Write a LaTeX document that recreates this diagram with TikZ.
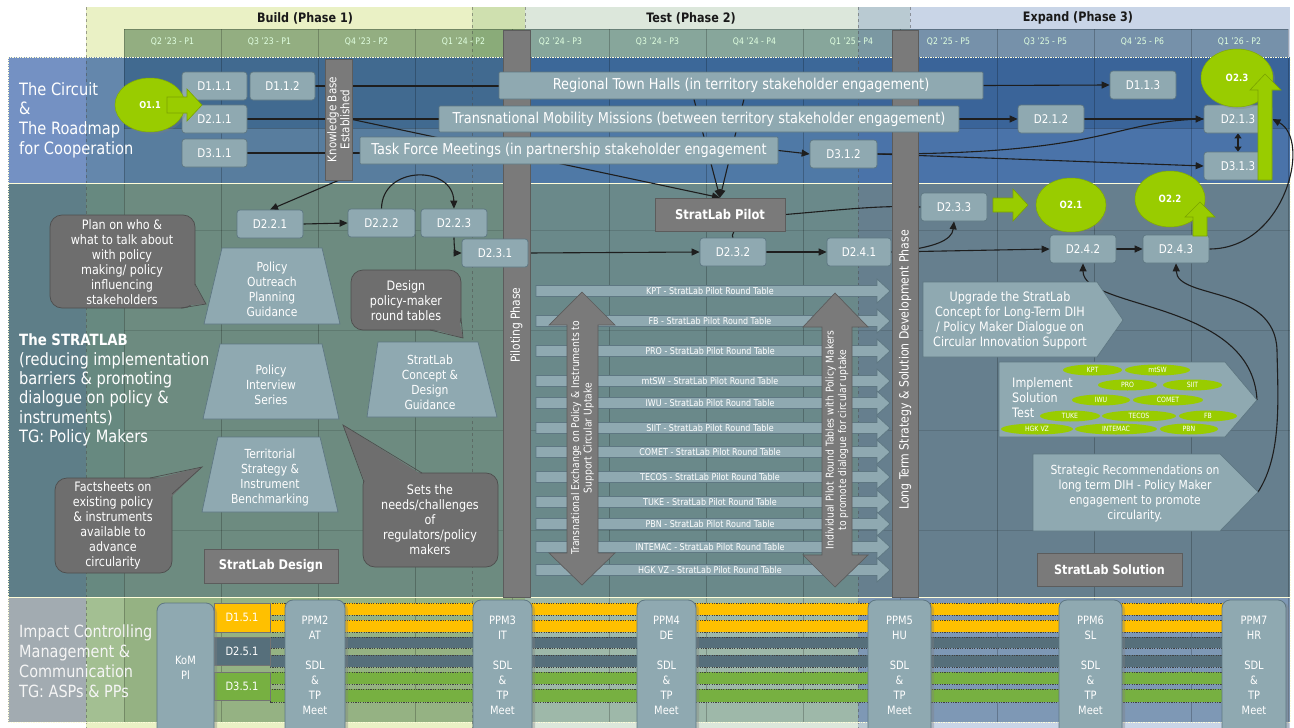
\documentclass[tikz,border=0pt]{standalone}
\usepackage{fontspec}
\setmainfont{DejaVu Sans}[FakeStretch=0.86]
\usetikzlibrary{arrows.meta,calc,shapes.geometric,shadows}
\newcommand\fsz[2]{\fontsize{#1}{#2}\selectfont}
\pgfdeclarelayer{bg}
\pgfdeclarelayer{lines}
\pgfdeclarelayer{bars}
\pgfsetlayers{bg,lines,bars,main}
\definecolor{nodec}{HTML}{8FA9B1}
\definecolor{nodebd}{HTML}{5E7782}
\definecolor{grayc}{HTML}{7A7A7A}
\definecolor{graybd}{HTML}{5C5C5C}
\definecolor{bubc}{HTML}{6E6E6E}
\definecolor{bubbd}{HTML}{4E4E4E}
\definecolor{greenc}{HTML}{99CC00}
\definecolor{yelc}{HTML}{FFC000}
\definecolor{slatec}{HTML}{566F7B}
\definecolor{greenb}{HTML}{77B041}
\definecolor{linec}{HTML}{1E1E1E}
\definecolor{pa}{HTML}{EAF1C5}
\definecolor{pab}{HTML}{CFE0AF}
\definecolor{pb}{HTML}{DCE7DB}
\definecolor{pbc}{HTML}{B9CAD2}
\definecolor{pc}{HTML}{C9D5E7}
\definecolor{qa}{HTML}{93AE81}
\definecolor{qab}{HTML}{8AAB79}
\definecolor{qb}{HTML}{87A69B}
\definecolor{qbc}{HTML}{7B98A2}
\definecolor{qc}{HTML}{7691AA}
\newcommand\rbox[7][]{\node[#1,minimum width={(#5)-(#3)},minimum height={(#6)-(#4)}] (#2) at ({((#3)+(#5))/2},{((#4)+(#6))/2}) {#7};}
\begin{document}
\begin{tikzpicture}[x=1pt,y=-1pt,
 dbox/.style={draw=nodebd, fill=nodec, rounded corners=3pt, text=white, font=\fsz{12}{14}, inner sep=0pt, line width=0.7pt},
 lbox/.style={dbox, rounded corners=1pt, font=\fsz{15}{17}},
 gbox/.style={draw=graybd, fill=grayc, text=white, inner sep=0pt, line width=0.7pt},
 blk/.style={fill=nodec, draw=nodebd, line width=0.7pt},
 bub/.style={fill=bubc, draw=bubbd, line width=0.7pt},
 wtext/.style={text=white, align=center, inner sep=0pt},
 conn/.style={draw=linec, line width=1.1pt},
 arr/.style={conn, -{Triangle[length=8pt,width=7pt]}},
 oval/.style={ellipse, fill=greenc, draw=greenc!85!black, line width=.5pt, text=white, font=\bfseries\fsz{10}{12}, inner sep=0pt, drop shadow={opacity=0.3, shadow xshift=2pt, shadow yshift=-2pt}},
 garrow/.style={fill=greenc, draw=greenc!80!black, line width=0.6pt},
 smallov/.style={ellipse, fill=greenc, inner sep=0pt, minimum height=11pt, text=white, font=\fsz{7.2}{8}},
 ppm/.style={fill=nodec, draw=nodebd, line width=.8pt, rounded corners=8pt, inner sep=0pt, minimum height=140pt, drop shadow={opacity=0.35, shadow xshift=3pt, shadow yshift=-2pt}},
 ppmtxt/.style={wtext, font=\fsz{11.5}{15}},
 dfive/.style={draw=black!55, line width=.5pt, text=white, font=\fsz{11.5}{13}, inner sep=0pt},
 barv/.style={draw=black!75, dash pattern=on 1.2pt off 1.2pt, line width=.4pt},
 gridl/.style={draw=black, opacity=.22, line width=.6pt},
 phl/.style={draw=black!70, dashed, opacity=.5, line width=.6pt},
 rowb/.style={draw=white!85!yellow, dash pattern=on 1.5pt off 1pt, line width=.8pt},
 ttl/.style={text=white, align=left, inner sep=0pt, anchor=west},
 qlab/.style={text=white!88!green, font=\fsz{9}{10}, inner sep=0pt},
 phtitle/.style={font=\bfseries\fsz{13}{15}, text=black!90, inner sep=0pt},
 bubtxt/.style={wtext, font=\fsz{13}{15}}
]
\useasboundingbox (0,0) rectangle (1294,728);
% ---------------- backgrounds
\begin{pgfonlayer}{bg}
\fill[white] (0,0) rectangle (1294,728);
\fill[pa] (86,7) rectangle (472,728);
\fill[pab] (472,7) rectangle (525,728);
\fill[pb] (525,7) rectangle (858,728);
\fill[pbc] (858,7) rectangle (910,728);
\fill[pc] (910,7) rectangle (1290,728);
% quarter strip
\fill[qa] (124,29) rectangle (472,57);
\fill[qab] (472,29) rectangle (525,57);
\fill[qb] (525,29) rectangle (858,57);
\fill[qbc] (858,29) rectangle (910,57);
\fill[qc] (910,29) rectangle (1288,57);
\draw[gridl] (124,29) -- (1288,29);
% row 1
\fill[fill={rgb,255:red,116;green,145;blue,195}] (8,57) rectangle (86,183);
\fill[fill={rgb,255:red,100;green,135;blue,172}] (86,57) rectangle (124,183);
\fill[fill={rgb,255:red,65;green,106;blue,144}] (124,57) rectangle (525,128);
\fill[fill={rgb,255:red,60;green,104;blue,153}] (525,57) rectangle (858,128);
\fill[fill={rgb,255:red,58;green,100;blue,153}] (858,57) rectangle (1290,128);
\fill[fill={rgb,255:red,88;green,125;blue,158}] (124,128) rectangle (525,183);
\fill[fill={rgb,255:red,79;green,121;blue,166}] (525,128) rectangle (858,183);
\fill[fill={rgb,255:red,74;green,115;blue,169}] (858,128) rectangle (1290,183);
% row 2
\fill[fill={rgb,255:red,94;green,126;blue,136}] (8,183) rectangle (86,597);
\fill[fill={rgb,255:red,103;green,137;blue,128}] (86,183) rectangle (124,597);
\fill[fill={rgb,255:red,109;green,139;blue,128}] (124,183) rectangle (525,597);
\fill[fill={rgb,255:red,106;green,137;blue,138}] (525,183) rectangle (858,597);
\fill[fill={rgb,255:red,102;green,127;blue,142}] (858,183) rectangle (1290,597);
% row 3
\fill[fill={rgb,255:red,162;green,171;blue,177}] (8,597) rectangle (86,722);
\fill[fill={rgb,255:red,163;green,191;blue,146}] (86,597) rectangle (124,722);
\fill[fill={rgb,255:red,149;green,178;blue,131}] (124,597) rectangle (525,722);
\fill[fill={rgb,255:red,158;green,184;blue,169}] (525,597) rectangle (858,722);
\fill[fill={rgb,255:red,126;green,152;blue,181}] (858,597) rectangle (1290,722);
% grid
\foreach \i in {0,...,12} \draw[gridl] ({124+97*\i},29) -- ({124+97*\i},722);
\draw[gridl] (124,128) -- (1290,128);
\foreach \yy in {230,330,430,530} \draw[gridl, opacity=.12] (124,\yy) -- (1290,\yy);
\foreach \xx in {86,472,525,858,910} \draw[phl] (\xx,7) -- (\xx,728);
\draw[rowb] (8,57) rectangle (1290,183);
\draw[rowb] (8,183) rectangle (1290,597);
\draw[rowb] (8,597) rectangle (1290,722);
\end{pgfonlayer}
% ---------------- header
\node[phtitle] (ph1) at (305,18) {Build (Phase 1)};
\node[phtitle] (ph2) at (691,18) {Test (Phase 2)};
\node[phtitle] (ph3) at (1078,18) {Expand (Phase 3)};
\foreach \lab [count=\i from 0] in {Q2 '23 - P1,Q3 '23 - P1,Q4 '23 - P2,Q1 '24 - P2,Q2 '24 - P3,Q3 '24 - P3,Q4 '24 - P4,Q1 '25 - P4,Q2 '25 - P5,Q3 '25 - P5,Q4 '25 - P6,Q1 '26 - P2}
  \node[qlab] (q\i) at ({124+97*\i+48.5},42) {\lab};
% ---------------- row titles
\node[ttl, font=\fsz{17}{19.7}] (t1) at (19,120) {The Circuit\\\&\\The Roadmap\\for Cooperation};
\node[ttl, font=\fsz{17}{19.3}] (t2) at (19,390) {{\bfseries\fsz{15.5}{19.3}The STRATLAB}\\(reducing implementation\\barriers \& promoting\\dialogue on policy \&\\instruments)\\TG: Policy Makers};
\node[ttl, text=white!92!gray, font=\fsz{16.8}{20}] (t3) at (19,661) {Impact Controlling\\Management \&\\Communication\\TG: ASPs \& PPs};
% ---------------- vertical bars
\begin{pgfonlayer}{bars}
\rbox[gbox]{kb}{325}{59}{352}{180}{}
\node[wtext, rotate=90, font=\fsz{12}{13}] (kbt) at (kb.center) {Knowledge Base\\Established};
\rbox[gbox]{pil}{503}{30}{530}{597}{}
\node[wtext, rotate=90, font=\fsz{12.5}{14}] (pilt) at (516.5,325) {Piloting Phase};
\rbox[gbox]{lts}{892}{30}{918}{597}{}
\node[wtext, rotate=90, font=\fsz{12.7}{14}] (ltst) at (905,370) {Long Term Strategy \& Solution Development Phase};
\end{pgfonlayer}
% ---------------- row 1 nodes
\rbox[dbox]{d111}{182}{72}{247}{100}{D1.1.1}
\rbox[dbox]{d112}{250}{72}{315}{100}{D1.1.2}
\rbox[dbox]{d211}{182}{105}{247}{133}{D2.1.1}
\rbox[dbox]{d311}{182}{139}{247}{167}{D3.1.1}
\rbox[lbox]{rth}{499}{72}{983}{99}{Regional Town Halls (in territory stakeholder engagement)}
\rbox[lbox]{tmm}{439}{106}{959}{132}{Transnational Mobility Missions (between territory stakeholder engagement)}
\rbox[lbox]{tfm}{360}{137}{778}{164}{Task Force Meetings (in partnership stakeholder engagement}
\rbox[dbox]{d312}{810}{140}{877}{168}{D3.1.2}
\rbox[dbox]{d113}{1110}{71}{1176}{99}{D1.1.3}
\rbox[dbox]{d212}{1018}{105}{1084}{133}{D2.1.2}
\rbox[dbox]{d213}{1204}{105}{1272}{133}{D2.1.3}
\rbox[dbox]{d313}{1204}{152}{1272}{180}{D3.1.3}
\node[oval, minimum width=70pt, minimum height=54pt, font=\bfseries\fsz{9.5}{11}] (o11) at (150,105) {O1.1};
\filldraw[garrow] (167,97) -- (187,97) -- (187,89) -- (202,105) -- (187,121) -- (187,113) -- (167,113) -- cycle;
\node[oval, minimum width=72pt, minimum height=58pt] (o23) at (1237,78) {O2.3};
\filldraw[garrow] (1258,180) -- (1272,180) -- (1272,90) -- (1281,90) -- (1265,74) -- (1250,90) -- (1258,90) -- cycle;
% ---------------- row 2 nodes
\rbox[dbox]{d221}{237}{210}{303}{238}{D2.2.1}
\rbox[dbox]{d222}{348}{209}{415}{237}{D2.2.2}
\rbox[dbox]{d223}{421}{209}{487}{237}{D2.2.3}
\rbox[dbox]{d231}{462}{239}{528}{267}{D2.3.1}
\rbox[dbox]{d232}{700}{238}{766}{266}{D2.3.2}
\rbox[dbox]{d241}{827}{238}{891}{266}{D2.4.1}
\rbox[dbox]{d233}{921}{193}{987}{221}{D2.3.3}
\rbox[dbox]{d242}{1050}{235}{1116}{263}{D2.4.2}
\rbox[dbox]{d243}{1143}{235}{1209}{263}{D2.4.3}
\rbox[gbox, font=\bfseries\fsz{13.4}{16}]{pilot}{655}{198}{785}{231}{StratLab Pilot}
\node[oval, minimum width=70pt, minimum height=54pt] (o21) at (1071,205) {O2.1};
\filldraw[garrow] (993,198) -- (1013,198) -- (1013,189) -- (1028,205) -- (1013,221) -- (1013,212) -- (993,212) -- cycle;
\node[oval, minimum width=70pt, minimum height=56pt] (o22) at (1170,199) {O2.2};
\filldraw[garrow] (1193,236) -- (1207,236) -- (1207,217) -- (1215,217) -- (1200,202) -- (1185,217) -- (1193,217) -- cycle;
% trapezoids
\filldraw[blk] (222,248) -- (322,248) -- (340,324) -- (204,324) -- cycle;
\node[wtext, font=\fsz{12.5}{15}] (pop) at (272,289.5) {Policy\\Outreach\\Planning\\Guidance};
\filldraw[blk] (220,344) -- (322,344) -- (339,419) -- (203,419) -- cycle;
\node[wtext, font=\fsz{12.5}{15}] (pis) at (271,385) {Policy\\Interview\\Series};
\filldraw[blk] (378,342) -- (478,342) -- (497,417) -- (367,417) -- cycle;
\node[wtext, font=\fsz{12.5}{15}] (scd) at (430,382) {StratLab\\Concept \&\\Design\\Guidance};
\filldraw[blk] (218,437) -- (320,437) -- (338,512) -- (202,512) -- cycle;
\node[wtext, font=\fsz{12.5}{15}] (tsb) at (270,478) {Territorial\\Strategy \&\\Instrument\\Benchmarking};
% speech bubbles
\filldraw[bub, rounded corners=12pt] (50,215) rectangle (195,308);
\fill[bubc] (192,281) -- (206,304) -- (178,306) -- cycle;
\draw[bubbd, line width=.7pt] (195,284) -- (206,304) -- (181,308);
\node[bubtxt] (bt1) at (122,262) {Plan on who \&\\what to talk about\\with policy\\making/ policy\\influencing\\stakeholders};
\filldraw[bub, rounded corners=12pt] (351,270) rectangle (461,330);
\fill[bubc] (426,327) -- (463,338) -- (458,314) -- cycle;
\draw[bubbd, line width=.7pt] (430,330) -- (463,338) -- (461,318);
\node[bubtxt] (bt2) at (406,301) {Design\\policy-maker\\round tables};
\filldraw[bub, rounded corners=12pt] (55,478) rectangle (172,573);
\fill[bubc] (146,481) -- (202,467) -- (169,499) -- cycle;
\draw[bubbd, line width=.7pt] (150,478) -- (202,467) -- (172,494);
\node[bubtxt] (bt3) at (113,525.5) {Factsheets on\\existing policy\\\& instruments\\available to\\advance\\circularity};
\filldraw[bub, rounded corners=12pt] (363,473) rectangle (498,567);
\fill[bubc] (366,485) -- (343,425) -- (424,476) -- cycle;
\draw[bubbd, line width=.7pt] (364,482) -- (343,425) -- (422,473);
\node[bubtxt] (bt4) at (430,520) {Sets the\\needs/challenges\\of\\regulators/policy\\makers};
\rbox[gbox, font=\bfseries\fsz{13.3}{16}]{sdes}{204}{549}{338}{583}{StratLab Design}
% round tables
\foreach \yy/\lab [count=\k] in {291/KPT,321/FB,351/PRO,381/mtSW,403/IWU,428/SIIT,452/COMET,477/TECOS,502/TUKE,524/PBN,547/INTEMAC,570/HGK VZ} {
  \filldraw[blk] (536,\yy-5.5) -- (877,\yy-5.5) -- (877,\yy-12) -- (890,\yy) -- (877,\yy+12) -- (877,\yy+5.5) -- (536,\yy+5.5) -- cycle;
  \node[wtext, font=\fsz{9.3}{11}] (rt\k) at (710,\yy) {\lab{} - StratLab Pilot Round Table};
}
% vertical double arrows
\filldraw[fill=grayc, draw=graybd, line width=.7pt] (582,292) -- (615,325) -- (598,325) -- (598,553) -- (615,553) -- (582,585) -- (549,553) -- (567,553) -- (567,325) -- (549,325) -- cycle;
\node[wtext, rotate=90, font=\fsz{10.7}{12.5}] (vt1) at (582.5,438) {Transnational Exchange on Policy \& Instruments to\\Support Circular Uptake};
\filldraw[fill=grayc, draw=graybd, line width=.7pt] (835,293) -- (868,327) -- (852,327) -- (852,555) -- (868,555) -- (835,587) -- (803,555) -- (822,555) -- (822,327) -- (803,327) -- cycle;
\node[wtext, rotate=90, font=\fsz{10.7}{12.5}] (vt2) at (837,440) {Individual Pilot Round Tables with Policy Makers\\to promote dialogue for circular uptake};
% pentagon arrows
\filldraw[blk] (923,282) -- (1097,282) -- (1123,320) -- (1097,357) -- (923,357) -- cycle;
\node[wtext, font=\fsz{13}{15}] (upg) at (1010,320) {Upgrade the StratLab\\Concept for Long-Term DIH\\/ Policy Maker Dialogue on\\Circular Innovation Support};
\filldraw[blk] (999,362) -- (1225,362) -- (1257,400) -- (1225,437) -- (999,437) -- cycle;
\coordinate (impltip) at (1257,400);
\node[text=white, align=left, inner sep=0pt, anchor=west, font=\fsz{13}{15}] (impl) at (1012,398) {Implement\\Solution\\Test};
\foreach \xx/\yy/\ww/\lab in {1092.5/370/59/KPT,1157.5/370/65/mtSW,1127.5/385/59/PRO,1192.5/385/59/SIIT,1101/400/58/IWU,1168/400/70/COMET,1070/416/60/TUKE,1139/416/74/TECOS,1208/416/58/FB,1037/429/72/HGK VZ,1116/429/82/INTEMAC,1189/429/58/PBN}
  \node[smallov, minimum width=\ww pt] at (\xx,\yy) {\lab};
\filldraw[blk] (1033,454) -- (1220,454) -- (1258,492) -- (1220,531) -- (1033,531) -- cycle;
\coordinate (strattip) at (1258,492);
\node[wtext, font=\fsz{12.5}{15}] (strat) at (1135,493.5) {Strategic Recommendations on\\long term DIH - Policy Maker\\engagement to promote\\circularity.};
\rbox[gbox, font=\bfseries\fsz{13}{16}]{ssol}{1037}{553}{1182}{586}{StratLab Solution}
% ---------------- row 3
\foreach \ya/\yb/\cc in {603/615/yelc,620/632/yelc,637/648/slatec,655/667/slatec,672/684/greenb,689/702/greenb}
  \filldraw[barv, fill=\cc] (270,\ya) rectangle (1227,\yb);
\rbox[dfive, fill=yelc]{d151}{214}{603}{270}{632}{D1.5.1}
\rbox[dfive, fill=slatec]{d251}{214}{637}{270}{665}{D2.5.1}
\rbox[dfive, fill=greenb]{d351}{214}{672}{270}{700}{D3.5.1}
\node[ppm, minimum width=57pt] (kom) at (185.5,673) {};
\node[ppmtxt] (komt) at (185.5,667.5) {KoM\\Pl};
\foreach \nm/\xx/\ww/\a/\b in {ppm2/315/60/PPM2/AT,ppm3/502.5/59/PPM3/IT,ppm4/666.5/59/PPM4/DE,ppm5/899.5/63/PPM5/HU,ppm6/1090.5/63/PPM6/SL,ppm7/1254/64/PPM7/HR} {
  \node[ppm, minimum width=\ww pt] (\nm) at (\xx,670) {};
  \node[ppmtxt] (\nm t) at (\xx,665) {\a\\\b\\ \\SDL\\\&\\TP\\Meet};
}
% ---------------- connectors
\begin{pgfonlayer}{lines}
\draw[conn] (d112.east) -- (rth.west |- d112.east);
\draw[arr] (rth.east) -- (d113.west);
\draw[conn] (d211.east) -- (tmm.west |- d211.east);
\draw[arr] (tmm.east) -- (d212.west);
\draw[arr] (d212.east) -- (d213.west);
\draw[conn] (d311.east) -- (tfm.west |- d311.east);
\draw[arr] (tfm.east) -- (d312.west);
\draw[conn] (d312.east) .. controls (1110,154) and (1110,121) .. (d213.west);
\draw[arr] (d312.east) -- (d313.west);
\draw[conn, {Triangle[length=5pt,width=7pt]}-{Triangle[length=5pt,width=7pt]}] (d213.south) -- (d313.north);
\draw[arr] (d243.east) .. controls (1285,249) and (1312,140) .. (d213.east);
\draw[arr] ($(rth.south west)!0.403!(rth.south east)$) -- (pilot.north);
\draw[arr] ($(rth.south west)!0.506!(rth.south east)$) -- (pilot.north);
\draw[arr] (kb.east) -- (pilot.north);
\draw[arr] (kb.south) -- (d221.north);
\draw[arr] (d222.north) .. controls (382,165) and (453,165) .. (d223.north);
\draw[arr] (d221.east) -- (d222.west);
\draw[arr] (d223.south) .. controls (454,250) and (456,253) .. (d231.west);
\draw[arr] (d231.east) -- (d232.west);
\draw[arr] (d232.east) -- (d241.west);
\draw[conn] ($(pilot.south)+(14,0)$) .. controls (732,236) .. (d232.north);
\draw[conn] (pilot.east) .. controls (840,210) and (880,205) .. (d233.west);
\draw[arr] (d241.east) .. controls (935,248) and (952,240) .. (d233.south);
\draw[arr] (d241.east) -- (d242.west);
\draw[arr] (d242.east) -- (d243.west);
\draw[arr] (impltip) .. controls (1252,300) and (1083,310) .. (d242.south);
\draw[arr] (strattip) .. controls (1282,455) and (1278,400) .. (1277,350) .. controls (1275,285) and (1177,300) .. (d243.south);
\end{pgfonlayer}
\end{tikzpicture}
\end{document}
